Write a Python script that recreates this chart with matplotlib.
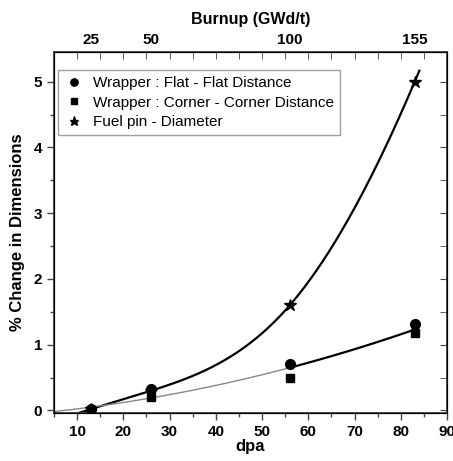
import numpy as np
import matplotlib
matplotlib.use("Agg")
import matplotlib.pyplot as plt
from matplotlib.ticker import MultipleLocator

plt.rcParams['font.family'] = ['Liberation Sans', 'DejaVu Sans']

dpa = [13, 26, 56, 83]
flat_flat = [0.02, 0.32, 0.71, 1.31]
corner_corner = [0.00, 0.20, 0.50, 1.18]
fuel_pin = [0.02, 0.30, 1.60, 5.00]
burnup_labels = ['25', '50', '100', '155']


def natural_spline(xk, yk, x):
    xk = np.asarray(xk, float)
    yk = np.asarray(yk, float)
    n = len(xk)
    h = np.diff(xk)
    A = np.zeros((n, n))
    b = np.zeros(n)
    A[0, 0] = A[-1, -1] = 1
    for i in range(1, n - 1):
        A[i, i - 1] = h[i - 1]
        A[i, i] = 2 * (h[i - 1] + h[i])
        A[i, i + 1] = h[i]
        b[i] = 3 * ((yk[i + 1] - yk[i]) / h[i] - (yk[i] - yk[i - 1]) / h[i - 1])
    c = np.linalg.solve(A, b)
    bb = (yk[1:] - yk[:-1]) / h - h * (2 * c[:-1] + c[1:]) / 3
    d = (c[1:] - c[:-1]) / (3 * h)
    out = np.empty_like(x)
    for j, xv in enumerate(x):
        i = np.clip(np.searchsorted(xk, xv) - 1, 0, n - 2)
        t = xv - xk[i]
        if xv < xk[0]:
            out[j] = yk[0] + bb[0] * t
        else:
            out[j] = yk[i] + bb[i] * t + c[i] * t ** 2 + d[i] * t ** 3
    return out


fig = plt.figure(figsize=(4.53, 4.61), dpi=100)
ax = fig.add_axes([0.119, 0.104, 0.868, 0.783])

x_fit = np.linspace(5, 84, 300)
p_pin = np.polyfit(dpa, fuel_pin, 3)
pin_curve = 0.5 * (np.polyval(p_pin, x_fit) + natural_spline(dpa, fuel_pin, x_fit))
ax.plot(x_fit, pin_curve, color='black', lw=1.6, zorder=2)

wr_mean = (np.array(flat_flat) + np.array(corner_corner)) / 2
p_wr = np.polyfit(dpa, wr_mean, 2)
x1 = np.linspace(5, 56, 150)
x2 = np.linspace(56, 83, 100)
ax.plot(x1, np.polyval(p_wr, x1), color='#888888', lw=1.0, zorder=2)
ax.plot(x2, np.polyval(p_wr, x2), color='black', lw=1.6, zorder=2)

ax.plot(dpa, flat_flat, 'o', color='black', ms=7, ls='none', zorder=3,
        label='Wrapper : Flat - Flat Distance')
ax.plot(dpa, corner_corner, 's', color='black', ms=6, ls='none', zorder=3,
        label='Wrapper : Corner - Corner Distance')
ax.plot(dpa, fuel_pin, '*', color='black', ms=9, ls='none', zorder=3,
        label='Fuel pin - Diameter')

ax.set_xlim(5, 90)
ax.set_ylim(-0.04, 5.45)
ax.xaxis.set_major_locator(MultipleLocator(10))
ax.xaxis.set_minor_locator(MultipleLocator(5))
ax.yaxis.set_major_locator(MultipleLocator(1))
ax.yaxis.set_minor_locator(MultipleLocator(0.5))

for s in ax.spines.values():
    s.set_color('#444444')
    s.set_linewidth(1.3)

ax.tick_params(axis='both', which='major', direction='out', length=5, width=1,
               labelsize=11, color='#444444')
ax.tick_params(axis='both', which='minor', direction='out', length=3, width=1,
               color='#444444')
for lab in ax.get_xticklabels() + ax.get_yticklabels():
    lab.set_fontweight('bold')

ax.set_xlabel('dpa', fontsize=12, fontweight='bold', labelpad=0)
ax.set_ylabel('% Change in Dimensions', fontsize=12, fontweight='bold', labelpad=6)

axr = ax.twinx()
axr.set_ylim(ax.get_ylim())
axr.yaxis.set_major_locator(MultipleLocator(1))
axr.yaxis.set_minor_locator(MultipleLocator(0.5))
axr.tick_params(axis='y', which='both', direction='in', length=5, labelright=False,
                color='#444444')

axt = ax.twiny()
axt.set_xlim(ax.get_xlim())
axt.set_xticks(dpa)
axt.set_xticklabels(burnup_labels, fontsize=11, fontweight='bold')
axt.tick_params(axis='x', which='major', length=0, pad=4)
axt.xaxis.set_minor_locator(MultipleLocator(5))
axt.tick_params(axis='x', which='minor', direction='in', length=5, color='#444444')
axt.set_xlabel('Burnup (GWd/t)', fontsize=11.5, fontweight='bold', labelpad=6)

leg = ax.legend(loc='upper left', bbox_to_anchor=(0.01, 0.95), borderaxespad=0,
                fontsize=11, frameon=True, fancybox=False, edgecolor='#888888',
                handletextpad=0.6, borderpad=0.4, labelspacing=0.35,
                handlelength=1.3, markerscale=0.75)
leg.get_frame().set_linewidth(1.0)

fig.savefig('out.png', dpi=100)
